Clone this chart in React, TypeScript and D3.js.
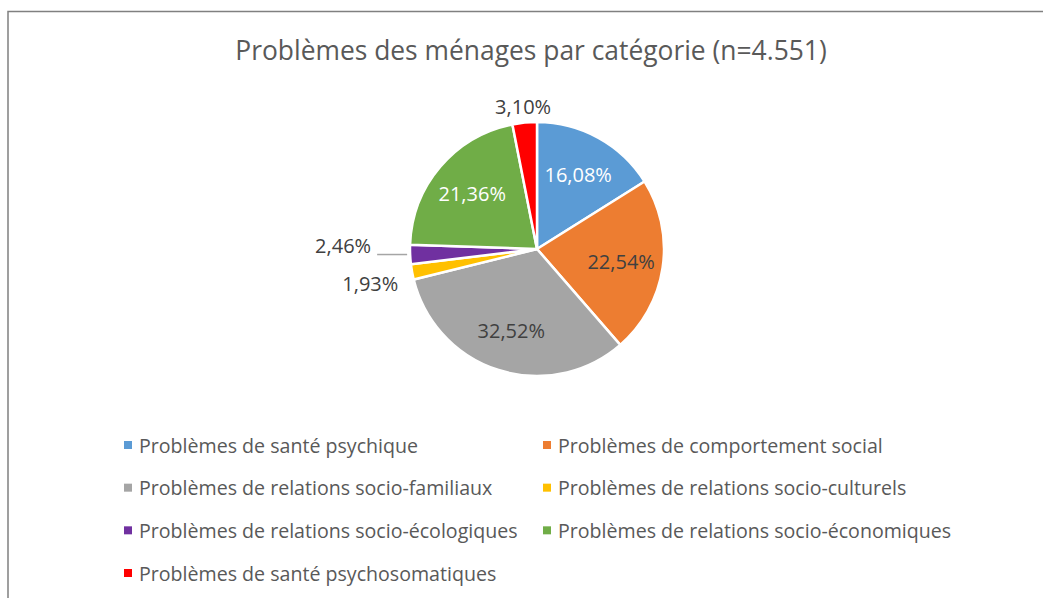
import * as d3 from "d3";

const categories = [
  "Problèmes de santé psychique",
  "Problèmes de comportement social",
  "Problèmes de relations socio-familiaux",
  "Problèmes de relations socio-culturels",
  "Problèmes de relations socio-écologiques",
  "Problèmes de relations socio-économiques",
  "Problèmes de santé psychosomatiques",
];
const shares = [16.08, 22.54, 32.52, 1.93, 2.46, 21.36, 3.1];
const colors = ["#5B9BD5", "#ED7D31", "#A5A5A5", "#FFC000", "#7030A0", "#70AD47", "#FF0000"];
const labelColors = ["#FFFFFF", "#404040", "#404040", "#404040", "#404040", "#FFFFFF", "#404040"];
const title = "Problèmes des ménages par catégorie (n=4.551)";

const W = 1043;
const H = 598;
const FONT = "'Open Sans', Lato, sans-serif";

const fmt = (v: number) => v.toFixed(2).replace(".", ",") + "%";

const App = () => {
  const cx = 537;
  const cy = 249;
  const r = 127;

  const pie = d3.pie<number>().sort(null).value((d) => d);
  const arcs = pie(shares);
  const arc = d3.arc<d3.PieArcDatum<number>>().innerRadius(0).outerRadius(r);
  const inner = d3.arc<d3.PieArcDatum<number>>().innerRadius(r * 0.67).outerRadius(r * 0.67);

  // outside labels for small slices
  type Lab = { i: number; x: number; y: number; ay: number; ax: number; anchor: string; leader: boolean; mid: number };
  const outs: Lab[] = [];
  arcs.forEach((a, i) => {
    if (shares[i] >= 5) return;
    const mid = (a.startAngle + a.endAngle) / 2;
    const s = Math.sin(mid);
    const c = -Math.cos(mid);
    const lr = r + 14;
    const left = s < -0.3;
    outs.push({
      i,
      mid,
      ax: cx + s * r,
      ay: cy + c * r,
      x: left ? cx + s * lr : cx + s * (r + 16),
      y: left ? cy + c * lr : cy + c * (r + 16),
      anchor: left ? "end" : "middle",
      leader: false,
    });
  });
  // spread left labels apart
  const leftLabs = outs.filter((l) => l.anchor === "end").sort((a, b) => a.y - b.y);
  for (let k = 1; k < leftLabs.length; k++) {
    const p = leftLabs[k - 1];
    const q = leftLabs[k];
    const gap = 38;
    if (q.y - p.y < gap) {
      const m = (p.y + q.y) / 2;
      p.y = m - gap / 2;
      q.y = m + gap / 2;
      // the one nearest the horizontal gets pulled out with a leader
      const near = Math.abs(Math.cos(p.mid)) < Math.abs(Math.cos(q.mid)) ? p : q;
      near.leader = true;
      near.x -= 25;
    }
  }

  const legendRows = d3.range(Math.ceil(categories.length / 2));
  const ly = d3.scalePoint<number>().domain(legendRows).range([445, 573]);
  const lx = d3.scalePoint<number>().domain([0, 1]).range([124, 543]);

  return (
    <div style={{ position: "absolute", left: 0, top: 0 }}>
      <svg width={W} height={H} style={{ display: "block", fontFamily: FONT }}>
        <rect width={W} height={H} fill="#fff" />
        <path d={`M8 ${H} V11.5 H${W}`} fill="none" stroke="#808080" strokeWidth={1.5} />
        <text x={531} y={50} textAnchor="middle" dominantBaseline="central" fontSize={26.4} fill="#595959">
          {title}
        </text>
        <g transform={`translate(${cx},${cy})`}>
          {arcs.map((a, i) => (
            <path key={i} d={arc(a) ?? ""} fill={colors[i]} stroke="#fff" strokeWidth={2.5} strokeLinejoin="round" />
          ))}
          {arcs.map((a, i) => {
            if (shares[i] < 5) return null;
            const [x, y] = inner.centroid(a);
            return (
              <text key={i} x={x} y={y} textAnchor="middle" dominantBaseline="central" fontSize={20} fill={labelColors[i]}>
                {fmt(shares[i])}
              </text>
            );
          })}
        </g>
        {outs.map((l) => (
          <g key={l.i}>
            {l.leader && (
              <path d={`M${l.ax - 3} ${l.ay} H${l.x + 6}`} stroke="#A5A5A5" strokeWidth={1.5} fill="none" />
            )}
            <text
              x={l.x}
              y={l.y}
              textAnchor={l.anchor}
              dominantBaseline="central"
              fontSize={20}
              fill={labelColors[l.i]}
            >
              {fmt(shares[l.i])}
            </text>
          </g>
        ))}
        {categories.map((c, i) => {
          const row = Math.floor(i / 2);
          const col = i % 2;
          const x = lx(col) ?? 0;
          const y = ly(row) ?? 0;
          return (
            <g key={c}>
              <rect x={x} y={y - 4} width={8} height={8} fill={colors[i]} />
              <text x={x + 15} y={y} dominantBaseline="central" fontSize={19.6} fill="#595959">
                {c}
              </text>
            </g>
          );
        })}
      </svg>
    </div>
  );
};

export default App;
